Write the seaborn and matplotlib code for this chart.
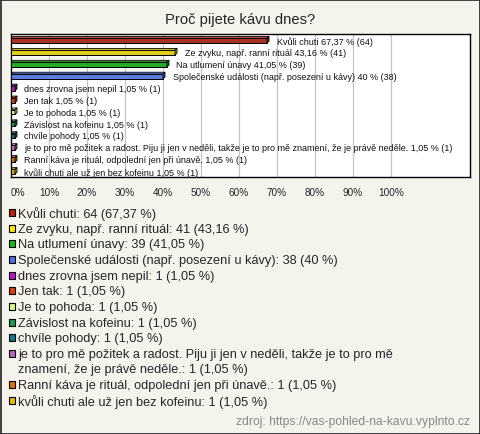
import matplotlib
matplotlib.use("Agg")
import matplotlib.pyplot as plt
import matplotlib.colors as mcolors
from matplotlib.patches import Polygon, Rectangle
import seaborn as sns
import pandas as pd

categories = [
    "Kvůli chuti",
    "Ze zvyku, např. ranní rituál",
    "Na utlumení únavy",
    "Společenské události (např. posezení u kávy)",
    "dnes zrovna jsem nepil",
    "Jen tak",
    "Je to pohoda",
    "Závislost na kofeinu",
    "chvíle pohody",
    "je to pro mě požitek a radost. Piju ji jen v neděli, takže je to pro mě znamení, že je právě neděle.",
    "Ranní káva je rituál, odpolední jen při únavě.",
    "kvůli chuti ale už jen bez kofeinu",
]
counts = [64, 41, 39, 38, 1, 1, 1, 1, 1, 1, 1, 1]
percents = [67.37, 43.16, 41.05, 40.0, 1.05, 1.05, 1.05, 1.05, 1.05, 1.05, 1.05, 1.05]
percent_text = ["67,37", "43,16", "41,05", "40", "1,05", "1,05", "1,05", "1,05",
                "1,05", "1,05", "1,05", "1,05"]
colors = ["#c0200a", "#ffe800", "#10c010", "#4a70f0", "#c010d0", "#e04000",
          "#d0ff80", "#10a050", "#107890", "#c060c0", "#e07000", "#e8b800"]
legend_lines = [
    None, None, None, None, None, None, None, None, None,
    ["je to pro mě požitek a radost. Piju ji jen v neděli, takže je to pro mě",
     "znamení, že je právě neděle.: 1 (1,05 %)"],
    None, None,
]
xticks = [0, 10, 20, 30, 40, 50, 60, 70, 80, 90, 100]
gridticks = [10, 20, 30, 40, 50, 60, 70, 80, 90, 100]

W, H = 480, 435
BG = "#f4f3ec"
sns.set_theme(style="white")
plt.rcParams["font.family"] = ["Liberation Sans", "DejaVu Sans"]

fig = plt.figure(figsize=(W / 100, H / 100), dpi=100)
fig.patch.set_facecolor(BG)

def fx(px):
    return px / W

def fy(py):
    return 1 - py / H

ax_l, ax_r, ax_t, ax_b = 11, 470, 35, 178
ax = fig.add_axes([fx(ax_l), fy(ax_b), fx(ax_r - ax_l), (ax_b - ax_t) / H])
ax.set_facecolor("white")

df = pd.DataFrame({"cat": categories, "pct": percents})
sns.barplot(data=df, x="pct", y="cat", hue="cat", palette=colors, orient="h",
            width=0.4, edgecolor="black", linewidth=0.7, legend=False, ax=ax,
            zorder=3)

xmax = 100 * (ax_r - ax_l) / 380.0
ax.set_xlim(0, xmax)
ax.set_ylim(11.45, -0.56)

# 3D-like top and side faces derived from the bar patches
dx = 2 / 3.8
dy = 0.15
for patch, c in zip(list(ax.patches), colors):
    x0, y0 = patch.get_x(), patch.get_y()
    w, h = patch.get_width(), patch.get_height()
    light = mcolors.to_rgb(c)
    light = tuple(min(1, v * 0.75 + 0.25) for v in light)
    dark = tuple(v * 0.7 for v in mcolors.to_rgb(c))
    top = Polygon([(x0, y0), (x0 + dx, y0 - dy), (x0 + w + dx, y0 - dy), (x0 + w, y0)],
                  closed=True, facecolor=light, edgecolor="black", linewidth=0.6, zorder=3)
    side = Polygon([(x0 + w, y0), (x0 + w + dx, y0 - dy), (x0 + w + dx, y0 + h - dy), (x0 + w, y0 + h)],
                   closed=True, facecolor=dark, edgecolor="black", linewidth=0.6, zorder=3)
    ax.add_patch(top)
    ax.add_patch(side)

for i, (cat, p, pt, n) in enumerate(zip(categories, percents, percent_text, counts)):
    ax.text(p + 2.5, i, f"{cat} {pt} % ({n})", fontsize=6.45, va="center", ha="left",
            color="#111111", zorder=4)

ax.set_xticks(xticks)
ax.set_xticklabels([f"{t}%" for t in xticks], fontsize=7.2)
ax.get_xticklabels()[0].set_horizontalalignment("left")
ax.tick_params(axis="x", length=0, pad=7.5)
ax.set_yticks([])
ax.set_xlabel("")
ax.set_ylabel("")
for g in gridticks:
    ax.axvline(g, color="#c4c4c4", linewidth=0.9, zorder=1)
for s in ax.spines.values():
    s.set_visible(True)
    s.set_color("black")
    s.set_linewidth(1.0)

# title
fig.text(0.5, fy(20), "Proč pijete kávu dnes?", ha="center", va="center", fontsize=10.6)

# legend below
y = 214
step = 15.65
for i, (cat, p, pt, n) in enumerate(zip(categories, percents, percent_text, counts)):
    lines = legend_lines[i] or [f"{cat}: {n} ({pt} %)"]
    fig.patches.append(Rectangle((fx(8.5), fy(y + 3.0)), fx(7), 7 / H,
                                 transform=fig.transFigure, facecolor=colors[i],
                                 edgecolor="black", linewidth=0.8))
    for k, line in enumerate(lines):
        fig.text(fx(18.5), fy(y + k * step), line, ha="left", va="center", fontsize=9.2)
    y += step * len(lines)

fig.text(fx(470), fy(422), "zdroj: https://vas-pohled-na-kavu.vyplnto.cz",
         ha="right", va="center", fontsize=8.7, color="#888888")

fig.patches.append(Rectangle((0.5 / W, 0.5 / H), 1 - 1 / W, 1 - 1 / H,
                             transform=fig.transFigure, facecolor="none",
                             edgecolor="#222222", linewidth=1.2))

fig.savefig("out.png", dpi=100, facecolor=BG)
